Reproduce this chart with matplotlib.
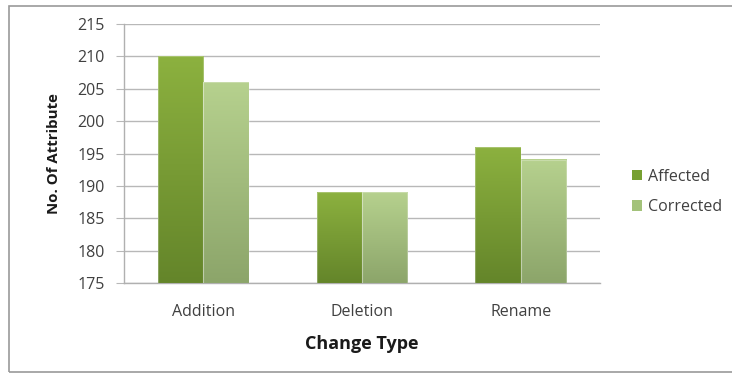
import numpy as np
import matplotlib
matplotlib.use("Agg")
import matplotlib.pyplot as plt
from matplotlib.patches import Rectangle
from matplotlib.colors import LinearSegmentedColormap

categories = ["Addition", "Deletion", "Rename"]
affected = [210, 189, 196]
corrected = [206, 189, 194]
series_names = ["Affected", "Corrected"]
y_ticks = [175, 180, 185, 190, 195, 200, 205, 210, 215]

plt.rcParams["font.family"] = ["Open Sans", "DejaVu Sans"]

fig = plt.figure(figsize=(7.32, 3.73), dpi=100)
fig.patches.append(Rectangle((9 / 732, 1 / 373), 1.2, (373 - 7) / 373,
                             transform=fig.transFigure, fill=False,
                             edgecolor="#9a9a9a", linewidth=1.2, zorder=0))

ax = fig.add_axes([124 / 732, 90 / 373, 476 / 732, 259 / 373])
ax.set_xlim(-0.5, 2.5)
ax.set_ylim(175, 215)
ax.set_yticks(y_ticks)
ax.yaxis.grid(True, color="#b8b8b8", linewidth=1.0)
ax.set_axisbelow(True)
for side in ("top", "right"):
    ax.spines[side].set_visible(False)
for side in ("left", "bottom"):
    ax.spines[side].set_color("#b0b0b0")
    ax.spines[side].set_linewidth(1.0)
ax.tick_params(axis="y", length=6, color="#b8b8b8", labelsize=11.5,
               labelcolor="#404040", pad=8)
ax.tick_params(axis="x", length=0, labelsize=11.5, labelcolor="#404040", pad=15)

x = np.arange(len(categories))
w = 0.285
grads = {
    "Affected": ("#8cb13f", "#64852a"),
    "Corrected": ("#b6d18e", "#8ca56a"),
}
legend_colors = {"Affected": "#77a031", "Corrected": "#a3c27a"}

for offset, name, vals in [(-w / 2, "Affected", affected), (w / 2, "Corrected", corrected)]:
    bars = ax.bar(x + offset, vals, w, bottom=0, color="none",
                  edgecolor="none", zorder=3, label=name)
    cmap = LinearSegmentedColormap.from_list(name, [grads[name][1], grads[name][0]])
    grad = np.linspace(0, 1, 256).reshape(-1, 1)
    for b in bars:
        x0, wd = b.get_x(), b.get_width()
        top = b.get_height()
        ax.imshow(grad, cmap=cmap, origin="lower", aspect="auto",
                  extent=(x0, x0 + wd, 175, top), zorder=3)
        ax.add_patch(Rectangle((x0, 175), wd, top - 175, fill=False,
                               edgecolor=(1, 1, 1, 0.25), linewidth=0.8, zorder=4))

ax.set_xlim(-0.5, 2.5)
ax.set_ylim(175, 215)
ax.set_xticks(x)
ax.set_xticklabels(categories)
ax.set_xlabel("Change Type", fontsize=13, fontweight="bold", color="#1a1a1a", labelpad=11)
ax.set_ylabel("No. Of Attribute", fontsize=10.8, fontweight="bold", color="#1a1a1a", labelpad=12)

handles = [Rectangle((0, 0), 1, 1, facecolor=legend_colors[n], edgecolor="none")
           for n in series_names]
fig.legend(handles, series_names, loc="center left",
           bbox_to_anchor=(618 / 732, (373 - 192) / 373), frameon=False,
           fontsize=11.5, handlelength=0.6, handleheight=0.6,
           handletextpad=0.4, labelspacing=0.9, labelcolor="#404040")

fig.savefig("out.png", dpi=100)
